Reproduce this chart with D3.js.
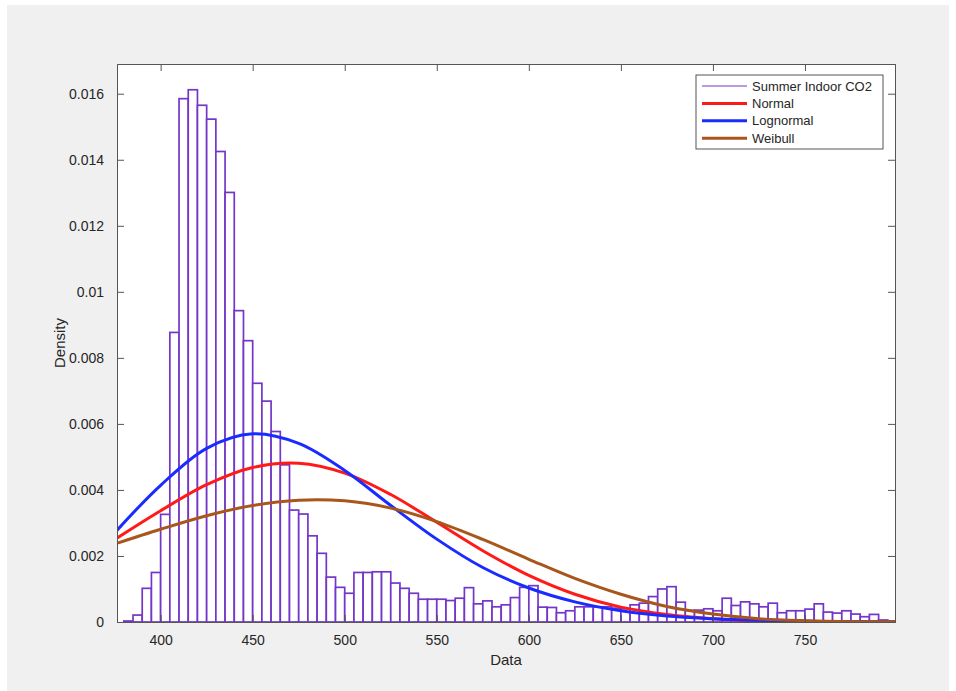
<!DOCTYPE html>
<html>
<head>
<meta charset="utf-8">
<script src="https://cdn.jsdelivr.net/npm/d3@7"></script>
<style>
  body { margin: 0; background: #ffffff; }
  svg { display: block; font-family: "Liberation Sans", Arial, Helvetica, sans-serif; }
</style>
</head>
<body>
<svg id="chart"></svg>
<script>
// histogram bins: left edge of each 5-unit bin and its density
const binStart = d3.range(380, 795, 5);
const binDensity = [
  0.00003, 0.00021, 0.00102, 0.0015, 0.00326, 0.00877, 0.01585, 0.01612, 0.01565, 0.01523,
  0.01425, 0.01301, 0.00943, 0.00852, 0.00723, 0.00669, 0.00577, 0.00476, 0.00339, 0.00327,
  0.00261, 0.00208, 0.00136, 0.00105, 0.00087, 0.0015, 0.0015, 0.00152, 0.00152, 0.00118,
  0.00102, 0.00087, 0.00069, 0.00069, 0.00069, 0.00065, 0.00072, 0.00104, 0.00055, 0.00064,
  0.00046, 0.00052, 0.00074, 0.00105, 0.0011, 0.00045, 0.00044, 0.00028, 0.00034, 0.00046,
  0.00046, 0.00046, 0.00046, 0.00042, 0.0004, 0.00052, 0.00057, 0.00077, 0.001, 0.00107,
  0.0006, 0.00035, 0.00036, 0.0004, 0.00034, 0.00072, 0.0005, 0.00061, 0.00055, 0.00046,
  0.00057, 0.00028, 0.00034, 0.00034, 0.00039, 0.00055, 0.0003, 0.00027, 0.00034, 0.00024,
  0.00016, 0.00023, 0.00006
];
const binWidth = 5;

// fitted curves
const curveX = [376, 400, 425, 450, 475, 500, 525, 550, 575, 600, 625, 650, 675, 700, 725, 750, 775, 799];
const normalY = [0.00253, 0.00337, 0.00416, 0.00468, 0.00481, 0.00451, 0.00386, 0.00302, 0.00216, 0.00141,
  0.00084, 0.00045, 0.00023, 0.0001, 0.00004, 0.00002, 0.00001, 0.0];
const lognormalY = [0.00276, 0.00414, 0.00526, 0.0057, 0.00541, 0.00459, 0.00353, 0.00251, 0.00165, 0.00103,
  0.00061, 0.00034, 0.00018, 0.0001, 0.00005, 0.00002, 0.00001, 0.000005];
const weibullY = [0.00238, 0.00281, 0.00322, 0.00353, 0.00369, 0.00367, 0.00345, 0.00304, 0.0025, 0.0019,
  0.00132, 0.00084, 0.00047, 0.00024, 0.0001, 0.00004, 0.00001, 0.000004];

const xTicks = [400, 450, 500, 550, 600, 650, 700, 750];
const yTicks = [0, 0.002, 0.004, 0.006, 0.008, 0.01, 0.012, 0.014, 0.016];

const series = [
  { name: "Normal", values: normalY, color: "#ff1a1a" },
  { name: "Lognormal", values: lognormalY, color: "#1a2bff" },
  { name: "Weibull", values: weibullY, color: "#a8561c" }
];
const histColor = "#7436c8";

const W = 956, H = 691;
const margin = { top: 64, right: 61, bottom: 69, left: 117 };
const width = W - margin.left - margin.right;
const height = H - margin.top - margin.bottom;

const svg = d3.select("#chart").attr("width", W).attr("height", H);

// figure background
svg.append("rect")
  .attr("x", 7).attr("y", 5)
  .attr("width", 942).attr("height", 686)
  .attr("fill", "#f0f0f0");

const g = svg.append("g").attr("transform", `translate(${margin.left},${margin.top})`);

g.append("rect")
  .attr("width", width).attr("height", height)
  .attr("fill", "#ffffff");

const x = d3.scaleLinear().domain([376.3, 798.9]).range([0, width]);
const y = d3.scaleLinear().domain([0, 0.0169]).range([height, 0]);

g.append("clipPath").attr("id", "clip")
  .append("rect").attr("width", width).attr("height", height);

// histogram bars
g.append("g")
  .selectAll("rect")
  .data(binStart.map((s, i) => ({ x0: s, v: binDensity[i] })))
  .enter()
  .append("rect")
  .attr("x", (d) => x(d.x0))
  .attr("y", (d) => y(d.v))
  .attr("width", (d) => x(d.x0 + binWidth) - x(d.x0))
  .attr("height", (d) => y(0) - y(d.v))
  .attr("fill", "#ffffff")
  .attr("stroke", histColor)
  .attr("stroke-width", 1.7);

// fit curves
const line = d3.line()
  .x((d) => x(d[0]))
  .y((d) => y(d[1]))
  .curve(d3.curveCatmullRom.alpha(0.5));

series.forEach((s) => {
  g.append("path")
    .datum(curveX.map((v, i) => [v, s.values[i]]))
    .attr("clip-path", "url(#clip)")
    .attr("fill", "none")
    .attr("stroke", s.color)
    .attr("stroke-width", 3)
    .attr("d", line);
});

// axes: ticks inside, box on all four sides
const axisColor = "#262626";
const tickLen = 7;

const xAxis = d3.axisBottom(x).tickValues(xTicks).tickSize(-tickLen).tickPadding(tickLen + 6).tickFormat(d3.format("d"));
const xAxisTop = d3.axisTop(x).tickValues(xTicks).tickSize(-tickLen).tickFormat("");
const yAxis = d3.axisLeft(y).tickValues(yTicks).tickSize(-tickLen).tickPadding(tickLen + 6).tickFormat((d) => (d === 0 ? "0" : d3.format("")(+d.toFixed(3))));
const yAxisRight = d3.axisRight(y).tickValues(yTicks).tickSize(-tickLen).tickFormat("");

const gx = g.append("g").attr("transform", `translate(0,${height})`).call(xAxis);
const gxt = g.append("g").call(xAxisTop);
const gy = g.append("g").call(yAxis);
const gyr = g.append("g").attr("transform", `translate(${width},0)`).call(yAxisRight);

[gx, gxt, gy, gyr].forEach((a) => {
  a.select(".domain").attr("stroke", "#555555").attr("stroke-width", 1);
  a.selectAll(".tick line").attr("stroke", "#555555").attr("stroke-width", 1);
  a.selectAll("text").attr("fill", axisColor).style("font-size", "14px");
});

// axis labels
svg.append("text")
  .attr("x", margin.left + width / 2)
  .attr("y", 665)
  .attr("text-anchor", "middle")
  .attr("fill", axisColor)
  .style("font-size", "15px")
  .text("Data");

svg.append("text")
  .attr("transform", `translate(65,${margin.top + height / 2}) rotate(-90)`)
  .attr("text-anchor", "middle")
  .attr("fill", axisColor)
  .style("font-size", "15px")
  .text("Density");

// legend
const legend = svg.append("g").attr("transform", "translate(696,75)");
legend.append("rect")
  .attr("width", 187).attr("height", 74)
  .attr("fill", "#ffffff")
  .attr("stroke", "#555555")
  .attr("stroke-width", 1);

const legendItems = [{ name: "Summer Indoor CO2", color: histColor, w: 1.2 }]
  .concat(series.map((s) => ({ name: s.name, color: s.color, w: 3 })));

legendItems.forEach((d, i) => {
  const yy = 11 + i * 17.4;
  legend.append("line")
    .attr("x1", 6).attr("x2", 51)
    .attr("y1", yy).attr("y2", yy)
    .attr("stroke", d.color)
    .attr("stroke-width", d.w);
  legend.append("text")
    .attr("x", 56).attr("y", yy)
    .attr("dy", "0.35em")
    .attr("fill", axisColor)
    .style("font-size", "13px")
    .text(d.name);
});
</script>
</body>
</html>
